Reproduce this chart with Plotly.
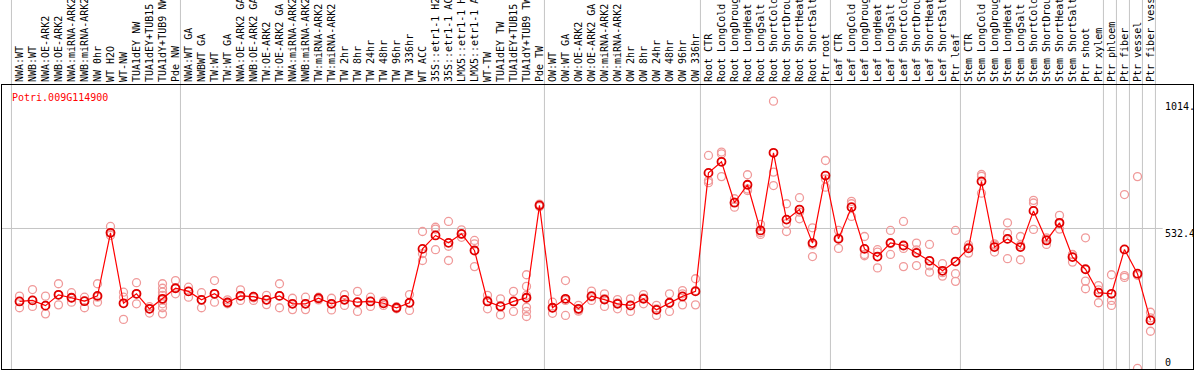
import plotly.graph_objects as go

title = "Potri.009G114900"

categories = [
    "NWA:WT", "NWB:WT", "NWA:OE-ARK2", "NWB:OE-ARK2", "NWA:miRNA-ARK2", "NWB:miRNA-ARK2",
    "NW 0hr", "WT H2O", "WT-NW", "TUA1dEY NW", "TUA1dEY+TUB15 NW", "TUA1dY+TUB9 NW", "Pde NW",
    "NWA:WT GA", "NWBWT GA", "TW:WT", "TW:WT GA", "NWA:OE-ARK2 GA", "NWB:OE-ARK2 GA",
    "TW:OE-ARK2", "TW:OE-ARK2 GA", "NWA:miRNA-ARK2 GA", "NWB:miRNA-ARK2 GA", "TW:miRNA-ARK2",
    "TW:miRNA-ARK2 GA", "TW 2hr", "TW 8hr", "TW 24hr", "TW 48hr", "TW 96hr", "TW 336hr",
    "WT ACC", "35S::etr1-1 H2O", "35S::etr1-1 ACC", "LMX5::etr1-1 H2O", "LMX5::etr1-1 ACC",
    "WT-TW", "TUA1dEY TW", "TUA1dEY+TUB15 TW", "TUA1dY+TUB9 TW", "Pde TW",
    "OW:WT", "OW:WT GA", "OW:OE-ARK2", "OW:OE-ARK2 GA", "OW:miRNA-ARK2", "OW:miRNA-ARK2 GA",
    "OW 2hr", "OW 8hr", "OW 24hr", "OW 48hr", "OW 96hr", "OW 336hr",
    "Root CTR", "Root LongCold", "Root LongDrought", "Root LongHeat", "Root LongSalt",
    "Root ShortCold", "Root ShortDrought", "Root ShortHeat", "Root ShortSalt", "Ptr root",
    "Leaf CTR", "Leaf LongCold", "Leaf LongDrought", "Leaf LongHeat", "Leaf LongSalt",
    "Leaf ShortCold", "Leaf ShortDrought", "Leaf ShortHeat", "Leaf ShortSalt", "Ptr leaf",
    "Stem CTR", "Stem LongCold", "Stem LongDrought", "Stem LongHeat", "Stem LongSalt",
    "Stem ShortCold", "Stem ShortDrought", "Stem ShortHeat", "Stem ShortSalt", "Ptr shoot",
    "Ptr xylem", "Ptr phloem", "Ptr fiber", "Ptr vessel", "Ptr fiber vessel",
]

means = [
    256, 260, 240, 281, 270, 257, 277, 516, 249, 285, 228, 266, 306,
    294, 262, 285, 252, 277, 274, 262, 277, 247, 247, 268, 247, 262, 253, 256, 249, 232,
    251, 455, 506, 478, 512, 449, 256, 237, 256, 270, 620,
    232, 266, 228, 276, 263, 247, 241, 266, 224, 251, 275, 294,
    743, 785, 630, 698, 525, 819, 566, 604, 477, 733,
    493, 613, 455, 426, 478, 468, 440, 410, 372, 407,
    457, 711, 462, 493, 462, 599, 487, 554, 424, 378,
    289, 285, 453, 361, 184,
]

replicates = [
    [276, 256, 232], [301, 260, 237], [276, 240, 209], [323, 281, 243], [289, 270, 253],
    [272, 257, 232], [323, 272, 253], [540, 516, 506], [291, 272, 188], [327, 285, 247],
    [236, 228, 212], [323, 306, 291, 279, 262, 247, 232, 209], [335, 306, 285],
    [310, 294, 272], [289, 262, 232], [335, 285, 253], [262, 252, 247], [300, 277, 260],
    [275, 270, 260], [279, 262, 244], [323, 277, 232], [268, 247, 225], [272, 247, 225],
    [272, 268, 262], [268, 247, 224], [282, 262, 241], [294, 253, 218], [272, 256, 237],
    [257, 249, 241], [236, 232, 228], [282, 251, 222], [521, 437, 411], [537, 530, 452],
    [559, 465, 411], [527, 510, 499], [487, 474, 388], [279, 260, 228], [266, 240, 205],
    [294, 256, 218], [357, 313, 279, 234, 218, 199], [625, 620, 615],
    [253, 232, 211], [335, 260, 203], [241, 224, 219], [295, 273, 260], [285, 267, 237],
    [263, 250, 228], [266, 239, 218], [282, 269, 247], [241, 228, 203], [285, 250, 218],
    [297, 285, 243], [342, 297, 243],
    [809, 714, 706], [822, 815, 729], [645, 632, 613], [736, 682, 676], [548, 517, 510],
    [1014.7, 746, 695], [626, 551, 521], [649, 594, 569], [535, 470, 426], [790, 720, 689],
    [525, 497, 457], [635, 626, 578], [502, 434, 429], [452, 443, 383], [525, 475, 434],
    [559, 457, 388], [477, 451, 392], [472, 391, 367], [399, 365, 352], [525, 361, 332],
    [470, 462, 439], [737, 730, 666], [474, 469, 443], [554, 515, 493, 418], [502, 470, 414],
    [639, 629, 529], [497, 492, 472], [582, 550, 530], [434, 433, 405], [497, 333, 304],
    [316, 300, 251], [357, 260, 241], [661, 354, 347], [729, 355, 2], [215, 194, 143],
]

group_starts = [0, 13, 41, 53, 63, 73, 84, 85, 86, 87, 88]
axis_labels = ["1014.", "532.4", "0"]
axis_label_values = [1014.7, 532.4, 0]
grid_value = 532.4

FONT = "DejaVu Sans Mono"
idx = list(range(len(categories)))

rep_x = [i for i, r in enumerate(replicates) for _ in r]
rep_y = [v for r in replicates for v in r]

fig = go.Figure()
fig.add_trace(go.Scatter(
    x=rep_x, y=rep_y, mode="markers",
    marker=dict(symbol="circle-open", size=8, color="#f09a9a", line=dict(width=1.3)),
    hoverinfo="skip", showlegend=False,
))
fig.add_trace(go.Scatter(
    x=idx, y=means, mode="lines+markers",
    line=dict(color="#ff0000", width=1.2),
    marker=dict(symbol="circle-open", size=8, color="#e00000", line=dict(width=1.8)),
    showlegend=False,
))

shapes = []
for g in group_starts:
    shapes.append(dict(type="line", xref="x", yref="paper", x0=g - 0.62, x1=g - 0.62,
                       y0=0, y1=1.35, line=dict(color="#c4c4c4", width=1), layer="below"))
shapes.append(dict(type="line", xref="paper", yref="y", x0=0, x1=0.9745,
                   y0=grid_value, y1=grid_value, line=dict(color="#c4c4c4", width=1), layer="below"))

annotations = [dict(text=title, xref="paper", yref="paper", x=0.0063, y=0.9577,
                    xanchor="left", yanchor="middle", showarrow=False,
                    font=dict(family=FONT, size=10, color="#ff0000"))]
for lab, val in zip(axis_labels, axis_label_values):
    shift = 7 if val == 0 else -5
    annotations.append(dict(text=lab, xref="paper", yref="y", x=0.9748, y=val,
                            xanchor="left", yanchor="middle", yshift=shift, showarrow=False,
                            font=dict(family=FONT, size=10, color="#000000")))

fig.update_layout(
    width=1194, height=370,
    margin=dict(l=2, r=1, t=85, b=1),
    paper_bgcolor="white", plot_bgcolor="white",
    shapes=shapes, annotations=annotations,
    xaxis=dict(range=[-1.346, 90.27], side="top", tickmode="array", tickvals=idx,
               ticktext=categories, tickangle=-90, ticks="", showgrid=False, zeroline=False,
               showline=True, mirror=True, linecolor="black", linewidth=1,
               tickfont=dict(family=FONT, size=10, color="black"), automargin=False),
    yaxis=dict(range=[0, 1076], showticklabels=False, showgrid=False, zeroline=False,
               showline=True, mirror=True, linecolor="black", linewidth=1, ticks="",
               automargin=False),
)

fig.write_html("out.html", config={"displayModeBar": False},
               post_script="document.body.style.margin='0';document.body.style.overflow='hidden';")
